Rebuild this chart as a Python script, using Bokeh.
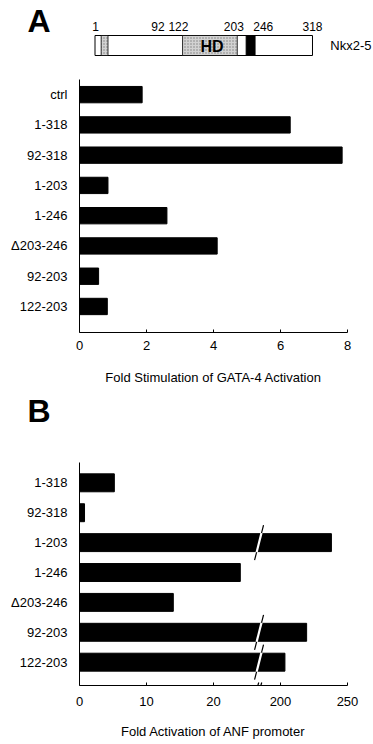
from bokeh.plotting import figure
from bokeh.layouts import column
from bokeh.models import Range1d, FixedTicker, Label, Arrow
from bokeh.embed import file_html
from bokeh.resources import INLINE
from bokeh.core.properties import value

FONT = "Liberation Sans"

# ---------------- data ----------------
# Nkx2-5 domain map (residue numbers)
residue_ticks = [1, 92, 122, 203, 246, 318]
protein_length = 318
stipple_starts = [9, 128]
stipple_ends = [19, 208]
solid_starts = [221]
solid_ends = [234]

# Panel A: Fold stimulation of GATA-4 activation
a_labels = ["ctrl", "1-318", "92-318", "1-203", "1-246", "\u0394203-246", "92-203", "122-203"]
a_values = [1.87, 6.29, 7.84, 0.85, 2.61, 4.11, 0.57, 0.83]
a_ticks = [0, 2, 4, 6, 8]

# Panel B: Fold activation of ANF promoter (broken axis)
b_labels = ["1-318", "92-318", "1-203", "1-246", "\u0394203-246", "92-203", "122-203"]
b_values = [5.2, 0.75, 238.0, 24.0, 14.0, 219.5, 203.3]
b_ticks = [0, 10, 20, 200, 250]
low_max = 30      # axis units where the upper segment starts
high_start = 200  # value shown at that position
high_factor = 0.2 # compression of upper segment
break_pos = 26.8  # axis position of the break


def to_axis(v):
    return v if v <= low_max else low_max + (v - high_start) * high_factor


def base_fig(w, h, xr, yr, left=0, right=0, top=0, bottom=0):
    p = figure(width=w, height=h, x_range=xr, y_range=yr, output_backend="svg",
               toolbar_location=None, min_border_left=left, min_border_right=right,
               min_border_top=top, min_border_bottom=bottom)
    p.frame_align = False
    p.outline_line_color = None
    p.xgrid.visible = False
    p.ygrid.visible = False
    p.background_fill_color = "white"
    p.border_fill_color = "white"
    return p


# ---------------- header with domain map ----------------
h1 = base_fig(373, 70, Range1d(-138.2, 407.2), Range1d(70, 0))
h1.axis.visible = False
h1.quad(left=[0], right=[protein_length], top=[35], bottom=[55],
        fill_color="white", line_color="black", line_width=1)
h1.quad(left=stipple_starts, right=stipple_ends, top=[35, 35], bottom=[55, 55],
        fill_color="#d2d2d2", line_color="black", line_width=0.8,
        hatch_pattern="dot", hatch_color="#808080", hatch_scale=3, hatch_weight=1)
h1.quad(left=solid_starts, right=solid_ends, top=[35], bottom=[55],
        fill_color="black", line_color="black")
h1.text(x=residue_ticks, y=[26] * len(residue_ticks), text=[str(r) for r in residue_ticks],
        text_align="center", text_baseline="middle", text_font=value(FONT),
        text_font_size="12px", text_color="black")
h1.text(x=[(stipple_starts[1] + stipple_ends[1]) / 2 + 3], y=[46], text=["HD"],
        text_align="center", text_baseline="middle", text_font=value(FONT),
        text_font_size="16px", text_font_style="bold", text_color="black")
h1.text(x=[protein_length + 26], y=[45], text=["Nkx2-5"], text_align="left",
        text_baseline="middle", text_font=value(FONT), text_font_size="13px",
        text_color="black")
h1.add_layout(Label(x=27, y=50, x_units="screen", y_units="screen", text="A",
                    text_font=FONT, text_font_size="32px", text_font_style="bold",
                    text_baseline="middle", text_color="black"))


def style_axes(p, label_standoff, title_standoff):
    p.xaxis.axis_line_color = "black"
    p.xaxis.major_tick_in = 3
    p.xaxis.major_tick_out = 0
    p.xaxis.minor_tick_line_color = None
    p.xaxis.major_label_text_font = FONT
    p.xaxis.major_label_text_font_size = "13px"
    p.xaxis.major_label_text_color = "black"
    p.xaxis.major_label_standoff = label_standoff
    p.xaxis.axis_label_text_font = FONT
    p.xaxis.axis_label_text_font_size = "13px"
    p.xaxis.axis_label_text_font_style = "normal"
    p.xaxis.axis_label_text_color = "black"
    p.xaxis.axis_label_standoff = title_standoff
    p.yaxis.axis_line_color = "black"
    p.yaxis.major_tick_in = 0
    p.yaxis.major_tick_out = 0
    p.yaxis.minor_tick_line_color = None
    p.yaxis.major_label_text_font = FONT
    p.yaxis.major_label_text_font_size = "13px"
    p.yaxis.major_label_text_color = "black"
    p.yaxis.major_label_standoff = 12


# ---------------- panel A ----------------
a_idx = list(range(len(a_labels)))
pA = base_fig(373, 320, Range1d(0, 8), Range1d(7.86, -0.5), left=79, right=26, top=9, bottom=58)
pA.hbar(y=a_idx, left=0, right=a_values, height=0.54, fill_color="black", line_color="black")
pA.xaxis.ticker = FixedTicker(ticks=a_ticks)
pA.xaxis.axis_label = "Fold Stimulation of GATA-4 Activation"
pA.yaxis.ticker = FixedTicker(ticks=a_idx)
pA.yaxis.major_label_overrides = {i: s for i, s in zip(a_idx, a_labels)}
style_axes(pA, 8, 17)

# ---------------- B strip ----------------
h2 = base_fig(373, 50, Range1d(0, 373), Range1d(50, 0))
h2.axis.visible = False
h2.add_layout(Label(x=27, y=29.5, x_units="screen", y_units="screen", text="B",
                    text_font=FONT, text_font_size="32px", text_font_style="bold",
                    text_baseline="middle", text_color="black"))

# ---------------- panel B ----------------
b_idx = list(range(len(b_labels)))
b_axis_vals = [to_axis(v) for v in b_values]
pB = base_fig(373, 304, Range1d(0, 40), Range1d(6.78, -0.68), left=79, right=26, top=22, bottom=59)
pB.hbar(y=b_idx, left=0, right=b_axis_vals, height=0.6, fill_color="black", line_color="black")

broken = [i for i, v in zip(b_idx, b_values) if v > low_max]
dx_out, dy_out = 0.67, 0.585
dx_in, dy_in = 0.36, 0.32
pB.segment(x0=[break_pos + dx_out] * len(broken), y0=[i - dy_out for i in broken],
           x1=[break_pos - dx_out] * len(broken), y1=[i + dy_out for i in broken],
           line_color="black", line_width=1.2)
pB.segment(x0=[break_pos + dx_in] * len(broken), y0=[i - dy_in for i in broken],
           x1=[break_pos - dx_in] * len(broken), y1=[i + dy_in for i in broken],
           line_color="white", line_width=2.2)

y_bottom = 6.78
for c in (break_pos - 0.25, break_pos + 0.2):
    pB.add_layout(Arrow(end=None, start=None, x_start=c + 0.2, y_start=y_bottom - 0.1,
                        x_end=c - 0.2, y_end=y_bottom + 0.2, line_color="black", line_width=1.2))

pB.xaxis.ticker = FixedTicker(ticks=[to_axis(t) for t in b_ticks])
pB.xaxis.major_label_overrides = {to_axis(t): str(t) for t in b_ticks}
pB.xaxis.axis_label = "Fold Activation of ANF promoter"
pB.yaxis.ticker = FixedTicker(ticks=b_idx)
pB.yaxis.major_label_overrides = {i: s for i, s in zip(b_idx, b_labels)}
style_axes(pB, 11, 15)

layout = column(h1, pA, h2, pB, spacing=0)
open("out.html", "w").write(file_html(layout, INLINE))
